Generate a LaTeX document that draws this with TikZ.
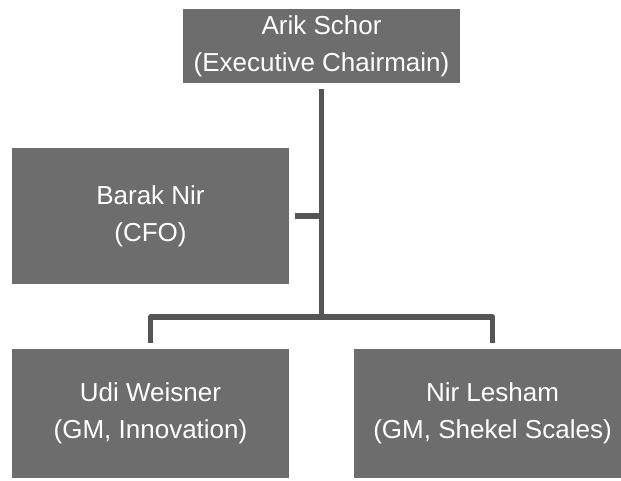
\documentclass[tikz,border=0pt]{standalone}
\usepackage{fontspec}
\setmainfont{Liberation Sans}
\definecolor{boxgray}{HTML}{6D6D6D}
\definecolor{linegray}{HTML}{555555}
\tikzset{
  orgbox/.style={fill=boxgray, draw=none, text=white, align=center, inner sep=0pt,
    minimum width=277pt, font=\fontsize{26}{37}\selectfont},
  conn/.style={draw=linegray, line width=5.5pt, line join=round, line cap=butt}
}
\begin{document}
\begin{tikzpicture}[x=1pt,y=-1pt]
\useasboundingbox (0,0) rectangle (621,481);
\clip (0,0) rectangle (621,481);
\node[orgbox, minimum height=74pt] (top) at (321.5,46) {Arik Schor\\(Executive Chairmain)};
\node[orgbox, minimum height=136pt] (cfo) at (150.5,216) {Barak Nir\\(CFO)};
\node[orgbox, minimum height=129pt] (udi) at (150.5,413.5) {Udi Weisner\\(GM, Innovation)};
\node[orgbox, minimum height=129pt] (nir) at (492.5,413.5) {Nir Lesham\\(GM, Shekel Scales)};
\coordinate (j) at (321.5,317);
\draw[conn, shorten <=6pt] (top.south) -- (j);
\draw[conn, shorten <=6pt] (cfo.east) -- (cfo.east -| j);
\draw[conn, shorten >=6pt] (j) -| (udi.north);
\draw[conn, shorten >=6pt] (j) -| (nir.north);
\end{tikzpicture}
\end{document}
